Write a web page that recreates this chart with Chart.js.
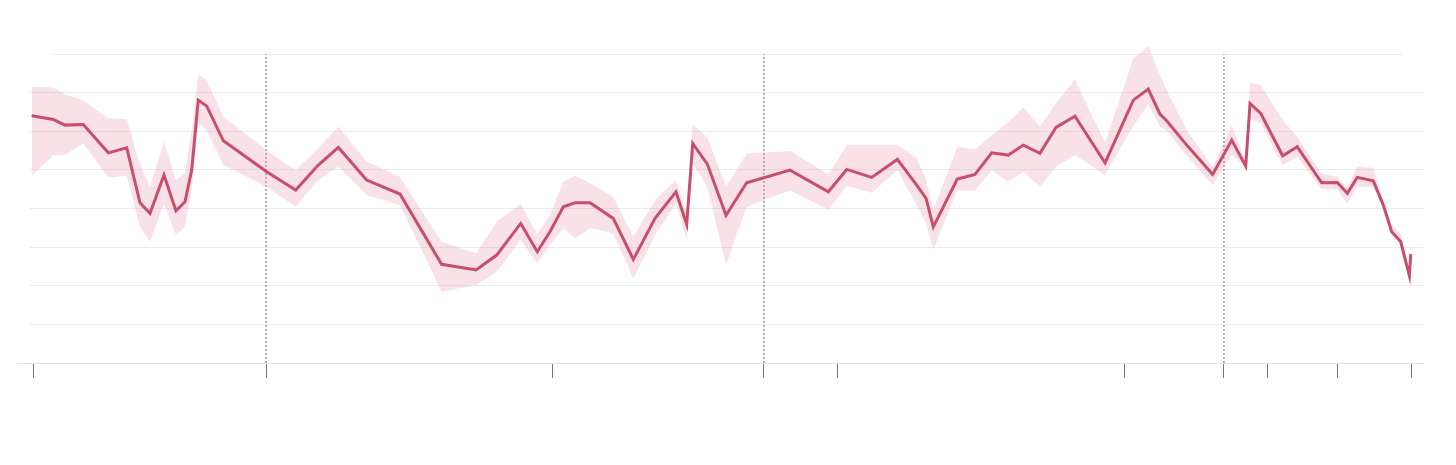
<!DOCTYPE html>
<html>
<head>
<meta charset="utf-8">
<script src="https://cdn.jsdelivr.net/npm/chart.js@4/dist/chart.umd.min.js"></script>
<style>
  html, body { margin: 0; padding: 0; background: #fff; }
  #wrap { width: 1456px; height: 465px; }
</style>
</head>
<body>
<div id="wrap"><canvas id="chart" width="1456" height="465"></canvas></div>
<script>
// x positions (0-100 span of the axis)
var xs = [0.12, 1.67, 2.51, 3.82, 5.62, 6.94, 7.89, 8.61, 9.61, 10.47, 11.12, 11.60, 12.07, 12.68, 13.87,
    16.98, 19.06, 20.68, 22.12, 24.15, 26.54, 29.53, 32.00, 33.48, 35.20, 36.39, 37.30, 38.26, 39.10, 40.17,
    41.84, 43.28, 44.84, 46.34, 47.11, 47.54, 48.59, 49.93, 51.41, 54.52, 57.27, 58.59, 60.38, 62.22, 63.61,
    64.28, 64.80, 66.52, 67.79, 68.99, 70.18, 71.26, 72.45, 73.60, 74.96, 77.12, 79.15, 80.22, 81.06, 81.54,
    82.98, 84.84, 86.21, 87.21, 87.52, 88.29, 89.86, 90.91, 92.66, 93.78, 94.50, 95.21, 96.36, 97.08, 97.68,
    98.33, 98.95, 99.05];

// central estimate
var mid = [32.01, 31.55, 30.81, 30.90, 27.22, 27.87, 20.75, 19.38, 24.34, 19.72, 20.88, 24.98, 34.05, 33.27, 28.78,
    24.76, 22.39, 25.63, 27.92, 23.69, 21.88, 12.78, 12.04, 13.98, 18.08, 14.41, 17.00, 20.23, 20.75, 20.75,
    18.73, 13.42, 18.73, 22.17, 17.95, 28.44, 25.76, 19.12, 23.34, 24.98, 22.17, 25.07, 24.04, 26.37, 23.04,
    21.32, 17.64, 23.82, 24.43, 27.22, 26.93, 28.22, 27.15, 30.51, 31.97, 25.93, 34.05, 35.47, 32.23, 31.37,
    28.22, 24.43, 28.87, 25.50, 33.62, 32.32, 26.84, 28.00, 23.34, 23.39, 21.97, 24.04, 23.60, 20.45, 17.00,
    15.70, 11.30, 14.11];

// upper bound of band
var hi = [35.77, 35.69, 34.82, 34.05, 31.68, 31.59, 25.63, 22.82, 28.65, 23.69, 24.56, 30.16, 37.41, 36.63, 31.88,
    27.57, 24.98, 27.83, 30.59, 26.06, 24.08, 15.70, 14.20, 18.29, 20.58, 16.70, 19.16, 23.47, 24.25, 23.30,
    21.53, 16.35, 21.10, 23.69, 19.16, 30.94, 29.22, 22.82, 27.15, 27.48, 24.43, 28.22, 28.22, 28.22, 26.54,
    23.69, 19.81, 28.00, 27.66, 29.51, 31.20, 33.10, 30.59, 33.66, 36.73, 28.52, 39.44, 41.04, 37.28, 35.34,
    30.16, 25.41, 30.81, 26.02, 36.28, 35.99, 31.46, 29.29, 24.47, 24.12, 22.62, 25.50, 25.24, 21.10, 17.86,
    16.79, 11.39, 14.11];

// lower bound of band
var lo = [24.21, 26.93, 26.93, 28.44, 24.04, 24.25, 17.64, 15.70, 20.67, 16.57, 17.64, 22.39, 31.07, 30.16, 25.63,
    22.82, 20.23, 23.69, 25.41, 21.75, 20.45, 9.23, 10.10, 11.82, 15.92, 12.91, 15.28, 17.44, 16.14, 17.44,
    16.79, 10.96, 16.57, 20.67, 16.01, 25.85, 22.82, 12.69, 20.23, 22.39, 19.81, 22.91, 22.05, 24.98, 20.45,
    18.08, 14.63, 22.39, 22.30, 24.98, 23.47, 24.76, 22.82, 25.41, 26.93, 24.34, 30.68, 33.53, 30.59, 30.16,
    26.80, 23.04, 26.93, 25.37, 31.68, 31.03, 25.63, 26.71, 22.49, 22.49, 20.58, 22.82, 22.82, 20.03, 16.70,
    15.40, 11.17, 14.11];

var tickVals = [0.22, 16.93, 37.45, 52.65, 57.96, 78.55, 85.65, 88.74, 93.83, 99.07];
var markerVals = [16.93, 52.65, 85.65];
var gridVals = [5, 10, 15, 20, 25, 30, 35];

var lineColor = 'rgb(200, 78, 108)';
var bandColor = 'rgba(232, 160, 178, 0.3)';

function pts(arr) {
    return xs.map(function (x, i) { return {x: x, y: arr[i]}; });
}

var datasets = [
    {data: pts(mid), borderColor: lineColor, borderWidth: 3, pointRadius: 0, fill: false, order: 0,
     borderJoinStyle: 'miter', tension: 0},
    {data: pts(hi), borderWidth: 0, borderColor: 'transparent', pointRadius: 0, fill: '+1',
     backgroundColor: bandColor, order: 1},
    {data: pts(lo), borderWidth: 0, borderColor: 'transparent', pointRadius: 0, fill: false, order: 1}
];

markerVals.forEach(function (v) {
    datasets.push({data: [{x: v, y: 0}, {x: v, y: 40}], borderColor: '#666', borderWidth: 1,
        borderDash: [2, 2], pointRadius: 0, fill: false, order: 2});
});

// baseline and short top rule
var extras = {
    id: 'extras',
    beforeDatasetsDraw: function (chart) {
        var c = chart.ctx, a = chart.chartArea, y = chart.scales.y;
        c.save();
        c.lineWidth = 1;
        c.strokeStyle = '#ebebeb';
        var yt = Math.round(y.getPixelForValue(40)) + 0.5;
        c.beginPath(); c.moveTo(a.left + 22, yt); c.lineTo(a.right - 22, yt); c.stroke();
        c.strokeStyle = '#e2e2e2';
        var yb = Math.round(y.getPixelForValue(0)) + 0.5;
        c.beginPath(); c.moveTo(a.left - 13, yb); c.lineTo(a.right, yb); c.stroke();
        c.restore();
    }
};

var ctx = document.getElementById('chart').getContext('2d');
var chart = new Chart(ctx, {
    type: 'line',
    data: {datasets: datasets},
    options: {
        responsive: false,
        animation: false,
        layout: {padding: {left: 30, right: 32, top: 31, bottom: 87}},
        plugins: {legend: {display: false}, tooltip: {enabled: false}},
        scales: {
            x: {
                type: 'linear', min: 0, max: 100,
                afterBuildTicks: function (s) { s.ticks = tickVals.map(function (v) { return {value: v}; }); },
                grid: {drawOnChartArea: false, drawTicks: true, tickLength: 15, tickColor: '#777', tickWidth: 1},
                border: {display: false},
                ticks: {display: false}
            },
            y: {
                min: 0, max: 43,
                afterBuildTicks: function (s) { s.ticks = gridVals.map(function (v) { return {value: v}; }); },
                grid: {color: '#ebebeb', lineWidth: 1, drawTicks: false},
                border: {display: false},
                ticks: {display: false}
            }
        }
    },
    plugins: [extras]
});
</script>
</body>
</html>
